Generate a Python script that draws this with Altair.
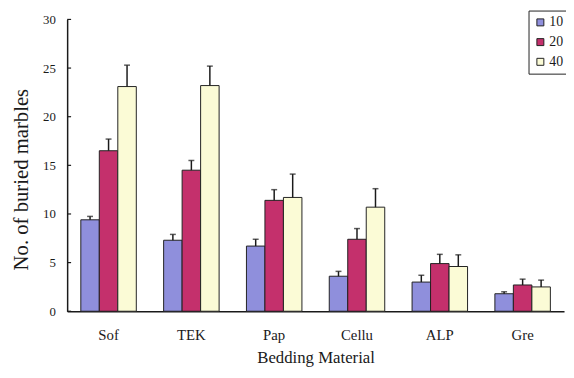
import altair as alt
import pandas as pd

materials = ["Sof", "TEK", "Pap", "Cellu", "ALP", "Gre"]
groups = ["10", "20", "40"]
mean_10 = [9.4, 7.3, 6.7, 3.6, 3.0, 1.8]
mean_20 = [16.5, 14.5, 11.4, 7.4, 4.9, 2.7]
mean_40 = [23.1, 23.2, 11.7, 10.7, 4.6, 2.5]
err_10 = [0.35, 0.6, 0.7, 0.5, 0.7, 0.2]
err_20 = [1.2, 1.0, 1.1, 1.1, 0.95, 0.6]
err_40 = [2.2, 2.0, 2.4, 1.9, 1.2, 0.7]
y_ticks = [0, 5, 10, 15, 20, 25, 30]
colors = ["#8f8fdc", "#c4306c", "#fbfbd6"]

rows = []
for g, means, errs in zip(groups, [mean_10, mean_20, mean_40], [err_10, err_20, err_40]):
    for m, v, e in zip(materials, means, errs):
        rows.append({"material": m, "group": g, "mean": v, "upper": v + e})
df = pd.DataFrame(rows)
ticks_df = pd.DataFrame({"v": y_ticks})

FONT = "Liberation Serif"
INK = "#1a1a1a"

x = alt.X(
    "material:N",
    sort=materials,
    scale=alt.Scale(paddingInner=0.33, paddingOuter=0.165),
    axis=alt.Axis(
        title="Bedding Material",
        ticks=False,
        domainColor=INK,
        domainWidth=1.5,
        labelAngle=0,
        labelFont=FONT,
        labelFontSize=15,
        labelColor=INK,
        labelPadding=17,
        titleFont=FONT,
        titleFontSize=17,
        titleFontWeight="normal",
        titleColor=INK,
        titlePadding=7,
    ),
)
xo = alt.XOffset("group:N", sort=groups, scale=alt.Scale(paddingInner=0, paddingOuter=0))
y = alt.Y(
    "mean:Q",
    scale=alt.Scale(domain=[0, 30], nice=False),
    axis=alt.Axis(
        values=y_ticks,
        tickSize=0,
        grid=False,
        domainColor=INK,
        domainWidth=1.5,
        labelFont=FONT,
        labelFontSize=13,
        labelColor=INK,
        labelPadding=12,
        title="No. of buried marbles",
        titleFont=FONT,
        titleFontSize=21,
        titleFontWeight="normal",
        titleColor=INK,
        titleX=-46,
        titleY=162,
        titleAngle=270,
        titleAlign="center",
        titleBaseline="middle",
    ),
)

base = alt.Chart(df)
bars = base.mark_bar(stroke="#222", strokeWidth=1).encode(
    x=x,
    xOffset=xo,
    y=y,
    color=alt.Color(
        "group:N",
        sort=groups,
        scale=alt.Scale(domain=groups, range=colors),
        legend=alt.Legend(
            title=None,
            orient="none",
            legendX=468,
            legendY=-9,
            strokeColor="#222",
            padding=5,
            symbolType="square",
            symbolSize=50,
            symbolStrokeColor="#222",
            symbolStrokeWidth=1,
            symbolOpacity=1,
            labelFont=FONT,
            labelFontSize=14,
            labelColor=INK,
            labelOffset=2,
            rowPadding=6,
        ),
    ),
)
err = base.mark_rule(color=INK, strokeWidth=1.5).encode(
    x=x, xOffset=xo, y="mean:Q", y2="upper:Q"
)
caps = base.mark_tick(color=INK, thickness=1.5, size=6).encode(
    x=x, xOffset=xo, y="upper:Q"
)
inner_ticks = alt.Chart(ticks_df).mark_rule(color=INK, strokeWidth=1.2).encode(
    y="v:Q", x=alt.value(0), x2=alt.value(4)
)

chart = (
    alt.layer(bars, err, caps, inner_ticks)
    .properties(
        width=504,
        height=296,
        autosize=alt.AutoSizeParams(type="none"),
        padding={"left": 60, "top": 9, "right": 2, "bottom": 57},
        background="white",
    )
    .configure_view(stroke=None)
)

chart.save("out.html", embed_options={"renderer": "svg", "actions": False})
